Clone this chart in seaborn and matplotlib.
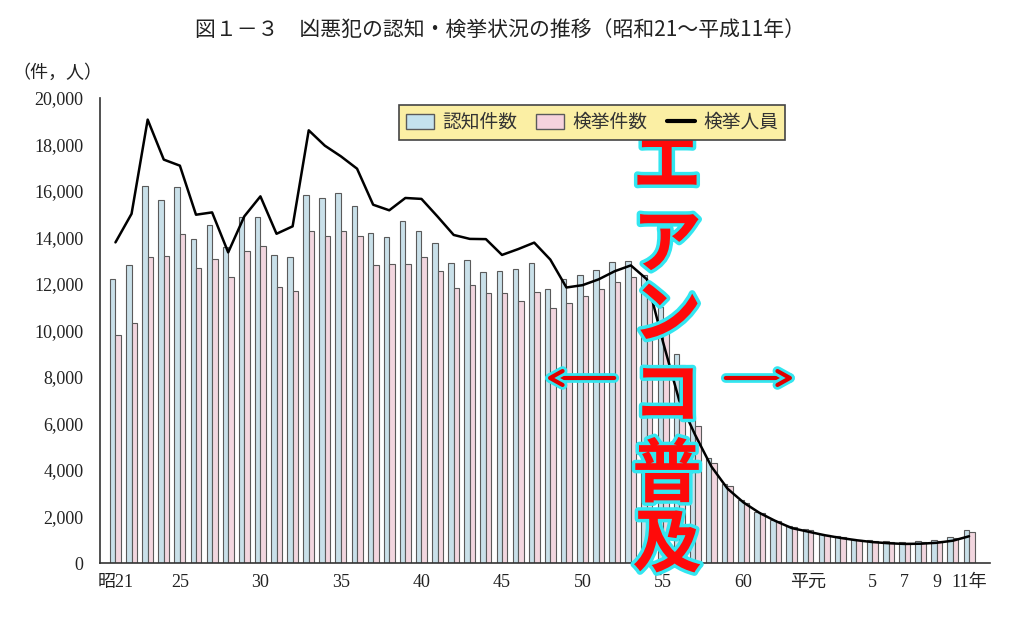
import numpy as np
import pandas as pd
import matplotlib
matplotlib.use("Agg")
import matplotlib.pyplot as plt
import matplotlib.patheffects as pe
from matplotlib.patches import Patch
from matplotlib.lines import Line2D
import seaborn as sns

# =========================
# データ (昭和21～平成11年)
# =========================
years = ["昭21"] + [str(y) for y in range(22, 64)] + ["平元"] + [str(y) for y in range(2, 12)]

ninchi = [12200, 12800, 16230, 15620, 16170, 13950, 14550, 13600, 14900, 14900,
          13250, 13180, 15840, 15680, 15910, 15370, 14190, 14020, 14730, 14260,
          13750, 12920, 13040, 12500, 12550, 12640, 12900, 11800, 12200, 12400,
          12600, 12950, 13000, 12400, 11000, 9000, 6200, 4500, 3400, 2700,
          2200, 1850, 1600, 1450, 1250, 1150, 1050, 1000, 950, 920,
          950, 1000, 1120, 1400]

kenkyo = [9810, 10340, 13160, 13210, 14150, 12680, 13080, 12320, 13440, 13620,
          11850, 11720, 14290, 14050, 14300, 14070, 12830, 12870, 12870, 13140,
          12580, 11820, 11960, 11600, 11600, 11250, 11650, 10950, 11200, 11500,
          11800, 12100, 12300, 11800, 10500, 8500, 5900, 4300, 3300, 2600,
          2150, 1800, 1550, 1400, 1200, 1100, 1000, 950, 900, 880,
          900, 960, 1080, 1350]

jinin = [13790, 15020, 19070, 17350, 17090, 14980, 15080, 13360, 14910, 15770,
         14160, 14480, 18610, 17950, 17490, 16960, 15410, 15170, 15700, 15660,
         14900, 14110, 13940, 13930, 13250, 13500, 13780, 13050, 11850, 11950,
         12200, 12550, 12800, 12200, 9500, 7000, 5500, 4150, 3200, 2600,
         2150, 1800, 1500, 1350, 1200, 1080, 980, 900, 850, 820,
         830, 870, 960, 1150]

label_years = ["昭21", "25", "30", "35", "40", "45", "50", "55", "60", "平元", "5", "7", "9", "11"]

# =========================
# 準備
# =========================
idx = np.arange(len(years))
dados = pd.DataFrame({
    "idx": np.concatenate([idx, idx]),
    "valor": ninchi + kenkyo,
    "serie": ["認知件数"] * len(idx) + ["検挙件数"] * len(idx),
})

azul = "#c4e2ee"
rosa = "#f6d2dd"

sns.set_style("white")
plt.rcParams["font.family"] = ["Noto Sans CJK JP", "DejaVu Sans"]

fig = plt.figure(figsize=(10.24, 6.39), dpi=100)
ax = fig.add_axes([100 / 1024, 76 / 639, 890 / 1024, 465 / 639])

sns.barplot(data=dados, x="idx", y="valor", hue="serie", palette=[azul, rosa],
            width=0.68, dodge=True, errorbar=None, edgecolor="#5a5a5a",
            linewidth=0.8, legend=False, ax=ax)
sns.lineplot(x=idx, y=jinin, color="black", linewidth=1.8, ax=ax)

ax.set_xlim(-0.96, 54.3)
ax.set_ylim(0, 20000)
ax.set_xlabel("")
ax.set_ylabel("")

# eixos
for lado in ["top", "right"]:
    ax.spines[lado].set_visible(False)
for lado in ["left", "bottom"]:
    ax.spines[lado].set_color("#333333")
    ax.spines[lado].set_linewidth(1.2)

yt = np.arange(0, 20001, 2000)
ax.set_yticks(yt)
ax.set_yticklabels([f"{v:,}" for v in yt], family=["Liberation Serif"], fontsize=13)
ax.tick_params(axis="y", direction="in", length=6, width=1, pad=12, colors="#222222")

ax.set_xticks(idx)
xl = [y if y in label_years else "" for y in years]
xl[-1] = "11年"
ax.set_xticklabels(xl, family=["Liberation Serif", "Noto Sans CJK JP"], fontsize=13)
ax.tick_params(axis="x", direction="out", length=5, width=0.8, pad=3, colors="#222222")
ax.grid(False)

# legenda (faixa amarela)
handles = [Patch(facecolor=azul, edgecolor="#5a5a5a"),
           Patch(facecolor=rosa, edgecolor="#5a5a5a"),
           Line2D([0], [0], color="black", linewidth=3)]
leg = fig.legend(handles, ["認知件数", "検挙件数", "検挙人員"], ncol=3,
                 loc="upper left", bbox_to_anchor=(390 / 1024, 1 - 96 / 639),
                 fontsize=13.5, frameon=True, fancybox=False, framealpha=1,
                 handlelength=1.5, handleheight=0.8, columnspacing=1.0,
                 handletextpad=0.45, borderpad=0.35)
leg.get_frame().set_facecolor("#fbefa4")
leg.get_frame().set_edgecolor("#444444")
leg.get_frame().set_linewidth(1.2)
for t in leg.get_texts():
    t.set_color("#333333")

# titulo e unidade
fig.text(500 / 1024, 1 - 30 / 639, "図１－３　凶悪犯の認知・検挙状況の推移（昭和21～平成11年）",
         ha="center", va="center", fontsize=15, color="#222222")
fig.text(12 / 1024, 1 - 73 / 639, "（件，人）", ha="left", va="center",
         fontsize=13, color="#222222")

# texto vermelho
contorno = [pe.withStroke(linewidth=5, foreground="#33e6f0")]
letras = ["エ", "ア", "ン", "コ", "普", "及"]
centros = [166, 246, 316, 397, 476, 546]
for ch, cy in zip(letras, centros):
    fig.text(667 / 1024, 1 - cy / 639, ch, ha="center", va="center", fontsize=50,
             fontweight="bold", color="#ff0a0a", path_effects=contorno)

seta = dict(arrowstyle="->,head_length=0.9,head_width=0.5", color="#e00000", linewidth=3,
            path_effects=[pe.Stroke(linewidth=7, foreground="#33e6f0"), pe.Normal()])
ax.annotate("", xy=(543 / 1024, 1 - 378 / 639), xytext=(617 / 1024, 1 - 378 / 639),
            xycoords="figure fraction", textcoords="figure fraction", arrowprops=seta)
ax.annotate("", xy=(797 / 1024, 1 - 378 / 639), xytext=(723 / 1024, 1 - 378 / 639),
            xycoords="figure fraction", textcoords="figure fraction", arrowprops=seta)

plt.savefig("out.png", dpi=100)
